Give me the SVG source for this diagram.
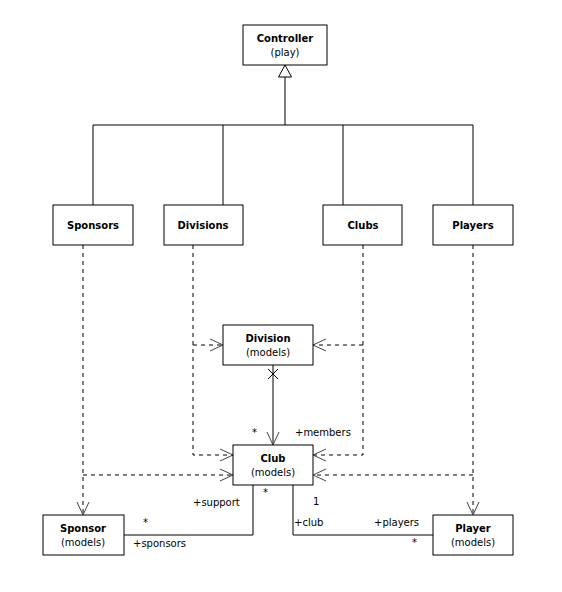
<svg xmlns="http://www.w3.org/2000/svg" width="562" height="592" viewBox="0 0 562 592">
<style>
.box{fill:#fff;stroke:#000;stroke-width:1}
.t{font-family:"DejaVu Sans",sans-serif;font-size:10px;fill:#000;text-anchor:middle}
.b{font-weight:bold}
.l{font-family:"DejaVu Sans",sans-serif;font-size:10px;fill:#000}
.solid{fill:none;stroke:#000;stroke-width:1}
.dash{fill:none;stroke:#000;stroke-width:1;stroke-dasharray:4,4;marker-end:url(#open)}
</style>
<defs>
<marker id="open" viewBox="0 0 14 14" refX="13" refY="7" markerWidth="14" markerHeight="14" markerUnits="userSpaceOnUse" orient="auto">
<path d="M0,1 L13,7 L0,13" fill="none" stroke="#444" stroke-width="1"/>
</marker>
</defs>
<rect width="562" height="592" fill="#fff"/>
<g id="connectors">
<path class="solid" d="M93 205V125H473V205M223 205V125M343 205V125M285 125V77"/>
<path d="M285 65L278.5 77H291.5Z" fill="#fff" stroke="#000"/>
<path class="dash" d="M83 245V515"/>
<path class="dash" d="M83 475H233"/>
<path class="dash" d="M193 245V455H233"/>
<path class="dash" d="M193 345H223"/>
<path class="dash" d="M363 245V455H313"/>
<path class="dash" d="M363 345H313"/>
<path class="dash" d="M473 245V515"/>
<path class="dash" d="M473 475H313"/>
<path class="solid" d="M273 365V445" marker-end="url(#open)"/>
<path class="solid" d="M268 369L278 379M278 369L268 379"/>
<path class="solid" d="M253 485V535H124"/>
<path class="solid" d="M293 485V535H433"/>
<text class="l" x="252" y="436">*</text>
<text class="l" x="295" y="436">+members</text>
<text class="l" x="263" y="496">*</text>
<text class="l" x="193" y="506">+support</text>
<text class="l" x="143" y="526">*</text>
<text class="l" x="133" y="547">+sponsors</text>
<text class="l" x="313" y="505">1</text>
<text class="l" x="294" y="526">+club</text>
<text class="l" x="374" y="526">+players</text>
<text class="l" x="412" y="546">*</text>
</g>
<g id="controller"><rect class="box" x="243" y="25" width="84" height="40"/><text class="t b" x="285" y="42">Controller</text><text class="t" x="285" y="56">(play)</text></g>
<g id="sponsors"><rect class="box" x="53" y="205" width="80" height="40"/><text class="t b" x="93" y="229">Sponsors</text></g>
<g id="divisions"><rect class="box" x="164" y="205" width="79" height="40"/><text class="t b" x="203" y="229">Divisions</text></g>
<g id="clubs"><rect class="box" x="323" y="205" width="79" height="40"/><text class="t b" x="363" y="229">Clubs</text></g>
<g id="players"><rect class="box" x="433" y="205" width="80" height="40"/><text class="t b" x="473" y="229">Players</text></g>
<g id="division"><rect class="box" x="223" y="325" width="90" height="40"/><text class="t b" x="268" y="342">Division</text><text class="t" x="268" y="356">(models)</text></g>
<g id="club"><rect class="box" x="233" y="445" width="80" height="40"/><text class="t b" x="273" y="462">Club</text><text class="t" x="273" y="476">(models)</text></g>
<g id="sponsor"><rect class="box" x="43" y="515" width="81" height="40"/><text class="t b" x="83" y="532">Sponsor</text><text class="t" x="83" y="546">(models)</text></g>
<g id="player"><rect class="box" x="433" y="515" width="80" height="40"/><text class="t b" x="473" y="532">Player</text><text class="t" x="473" y="546">(models)</text></g>
</svg>
